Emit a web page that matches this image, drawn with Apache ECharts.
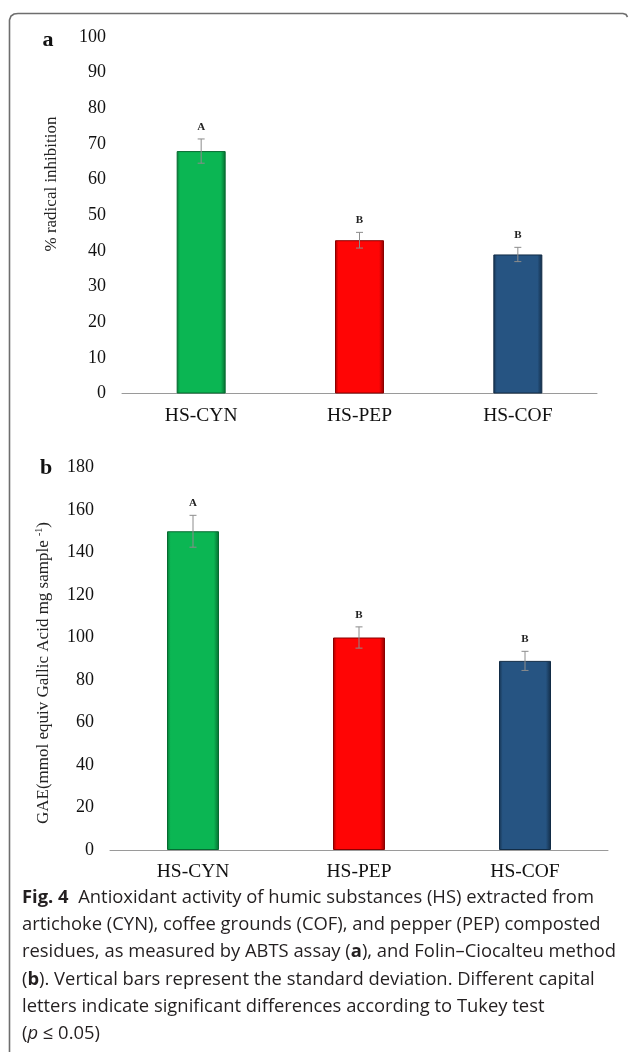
<!DOCTYPE html>
<html>
<head>
<meta charset="utf-8">
<script src="https://cdn.jsdelivr.net/npm/echarts@6/dist/echarts.min.js"></script>
<style>
html,body{margin:0;padding:0;background:#fff;}
#chart{width:630px;height:1052px;}
</style>
</head>
<body>
<div id="chart"></div>
<script>
// ---- data ----
const categories = ['HS-CYN', 'HS-PEP', 'HS-COF'];
const abtsMean = [68, 43, 39];
const abtsSD = [3.4, 2.2, 2.0];
const abtsLetters = ['A', 'B', 'B'];
const gaeMean = [150, 100, 89];
const gaeSD = [7.5, 5, 4.5];
const gaeLetters = ['A', 'B', 'B'];
const abtsAxis = { min: 0, max: 100, interval: 10 };
const gaeAxis = { min: 0, max: 180, interval: 20 };

// ---- styles ----
const SERIF = '"Liberation Serif", "Times New Roman", serif';
const SANS = '"Open Sans", "Noto Sans", sans-serif';
const barColors = [
  ['#067a36', '#0bb653', '#0bb653', '#066a30'],
  ['#a00000', '#ff0505', '#ff0505', '#8a0000'],
  ['#15324f', '#265482', '#265482', '#122c46']
];
function barFill(i) {
  const c = barColors[i];
  return {
    type: 'linear', x: 0, y: 0, x2: 1, y2: 0,
    colorStops: [
      { offset: 0, color: c[0] }, { offset: 0.07, color: c[1] },
      { offset: 0.9, color: c[2] }, { offset: 1, color: c[3] }
    ]
  };
}

const chart = echarts.init(document.getElementById('chart'), null, { renderer: 'canvas' });

function errData(mean, sd) {
  return mean.map((m, i) => [i, m - sd[i], m + sd[i]]);
}
function errRender(letters) {
  return function (params, api) {
    const x = api.value(0);
    const lo = api.coord([x, api.value(1)]);
    const hi = api.coord([x, api.value(2)]);
    const cap = 3.5;
    const st = { stroke: '#8c8c8c', lineWidth: 1 };
    return {
      type: 'group',
      children: [
        { type: 'line', shape: { x1: hi[0], y1: hi[1], x2: lo[0], y2: lo[1] }, style: st },
        { type: 'line', shape: { x1: hi[0] - cap, y1: hi[1], x2: hi[0] + cap, y2: hi[1] }, style: st },
        { type: 'line', shape: { x1: lo[0] - cap, y1: lo[1], x2: lo[0] + cap, y2: lo[1] }, style: st },
        { type: 'text', x: hi[0], y: hi[1] - 12,
          style: { text: letters[params.dataIndex], font: 'bold 11px ' + SERIF, fill: '#222',
                   align: 'center', verticalAlign: 'middle' } }
      ]
    };
  };
}

const xAxisBase = {
  type: 'category',
  data: categories,
  axisLine: { lineStyle: { color: '#9a9a9a', width: 1 } },
  axisTick: { show: false },
  axisLabel: { fontFamily: SERIF, fontSize: 19.5, color: '#111', margin: 12 }
};
const yAxisBase = {
  type: 'value',
  axisLine: { show: false },
  axisTick: { show: false },
  splitLine: { show: false },
  axisLabel: { fontFamily: SERIF, fontSize: 18, color: '#111', margin: 16 }
};

const option = {
  backgroundColor: '#fff',
  animation: false,
  grid: [
    { left: 122, right: 33, top: 37, height: 356.5 },
    { left: 110, right: 22, top: 467.5, height: 382.5 }
  ],
  xAxis: [
    Object.assign({ gridIndex: 0 }, xAxisBase),
    Object.assign({ gridIndex: 1 }, xAxisBase)
  ],
  yAxis: [
    Object.assign({ gridIndex: 0 }, yAxisBase, abtsAxis),
    Object.assign({ gridIndex: 1 }, yAxisBase, gaeAxis)
  ],
  series: [
    {
      type: 'bar', xAxisIndex: 0, yAxisIndex: 0, barWidth: 49,
      data: abtsMean.map((v, i) => ({ value: v, itemStyle: { color: barFill(i), borderColor: barColors[i][3], borderWidth: 1 } }))
    },
    {
      type: 'custom', xAxisIndex: 0, yAxisIndex: 0, z: 5,
      data: errData(abtsMean, abtsSD), renderItem: errRender(abtsLetters)
    },
    {
      type: 'bar', xAxisIndex: 1, yAxisIndex: 1, barWidth: 52,
      data: gaeMean.map((v, i) => ({ value: v, itemStyle: { color: barFill(i), borderColor: barColors[i][3], borderWidth: 1 } }))
    },
    {
      type: 'custom', xAxisIndex: 1, yAxisIndex: 1, z: 5,
      data: errData(gaeMean, gaeSD), renderItem: errRender(gaeLetters)
    }
  ],
  graphic: [
    // frame
    { type: 'polyline', shape: { points: [[9.5, 1052], [9.5, 20], [11, 16], [14, 14], [18, 13.5], [623, 13.5], [626, 14.5], [627.5, 17]] },
      style: { fill: null, stroke: '#6e6e6e', lineWidth: 1.6 } },
    // panel letters
    { type: 'text', x: 48, y: 40, style: { text: 'a', font: 'bold 22px ' + SERIF, fill: '#111', align: 'center', verticalAlign: 'middle' } },
    { type: 'text', x: 46, y: 468, style: { text: 'b', font: 'bold 22px ' + SERIF, fill: '#111', align: 'center', verticalAlign: 'middle' } },
    // y titles
    { type: 'text', x: 52, y: 184, rotation: Math.PI / 2,
      style: { text: '% radical inhibition', font: '17px ' + SERIF, fill: '#222', align: 'center', verticalAlign: 'middle' } },
    { type: 'text', x: 44, y: 673, rotation: Math.PI / 2,
      style: { text: 'GAE(mmol equiv Gallic Acid mg sample {sup|-1})', font: '17px ' + SERIF, fill: '#222',
               align: 'center', verticalAlign: 'middle',
               rich: { sup: { font: '10px ' + SERIF, fill: '#222', verticalAlign: 'top', lineHeight: 20 } } } },
    // caption
    { type: 'text', x: 22, y: 884,
      style: {
        text: '{b|Fig. 4}  Antioxidant activity of humic substances (HS) extracted from\n' +
              'artichoke (CYN), coffee grounds (COF), and pepper (PEP) composted\n' +
              'residues, as measured by ABTS assay ({b|a}), and Folin–Ciocalteu method\n' +
              '({b|b}). Vertical bars represent the standard deviation. Different capital\n' +
              'letters indicate significant differences according to Tukey test\n' +
              '({i|p} ≤ 0.05)',
        font: '18.4px ' + SANS, fill: '#231f20', lineHeight: 27.3,
        rich: {
          b: { font: 'bold 18.4px ' + SANS, fill: '#231f20', lineHeight: 27.3 },
          i: { font: 'italic 18.4px ' + SANS, fill: '#231f20', lineHeight: 27.3 }
        }
      } }
  ]
};
chart.setOption(option);
</script>
</body>
</html>
